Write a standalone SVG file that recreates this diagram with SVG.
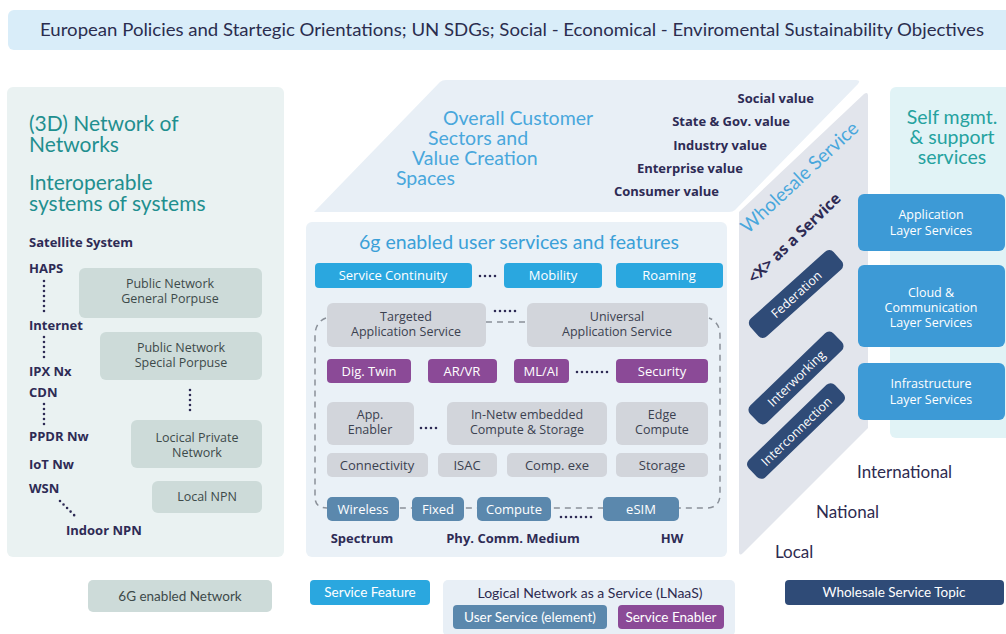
<svg xmlns="http://www.w3.org/2000/svg" width="1006" height="634" viewBox="0 0 1006 634">
<defs>
<style>
.hd{font-family:Lato,"Open Sans",sans-serif;}
.bd{font-family:"Open Sans","Noto Sans",sans-serif;}
.nv{fill:#2e2b55;font-weight:700;font-size:13px;}
.teal{fill:#1f8f8f;font-size:21px;}
.gbox{fill:#cddbd9;}
.gtx{fill:#3d4a4a;font-size:12.5px;text-anchor:middle;}
.feat{fill:#2aa7df;}
.app{fill:#d2d5db;}
.pur{fill:#8b4a97;}
.stl{fill:#5b88ad;}
.navy{fill:#2f4b77;}
.lay{fill:#3d9ad6;}
.wt{fill:#ffffff;font-size:13px;text-anchor:middle;}
.wt2{fill:#ffffff;font-size:12.5px;text-anchor:middle;}
.at{fill:#3b4150;font-size:13px;text-anchor:middle;}
.at2{fill:#3b4150;font-size:12.5px;text-anchor:middle;}
.dots{stroke:#2e2b55;stroke-width:2.6;stroke-linecap:round;stroke-dasharray:0 5;fill:none;}
.dash{stroke:#8a9099;stroke-width:1.5;stroke-dasharray:6 5;fill:none;}
.lvl{fill:#2e2b50;font-size:17px;}
</style>
</defs>

<!-- top banner -->
<g id="banner">
<rect x="8" y="10" width="1010" height="40" rx="6" fill="#d9edf9"/>
<text class="hd" x="512" y="36" text-anchor="middle" font-size="16.5" fill="#2b2d4f" textLength="944" lengthAdjust="spacingAndGlyphs">European Policies and Startegic Orientations; UN SDGs; Social - Economical - Enviromental Sustainability Objectives</text>
</g>

<!-- left panel -->
<g id="left-panel">
<rect x="7" y="87" width="277" height="470" rx="6" fill="#eaf2f2"/>
<text class="hd teal" x="29" y="131">(3D) Network of</text>
<text class="hd teal" x="29" y="152">Networks</text>
<text class="hd teal" x="29" y="190">Interoperable</text>
<text class="hd teal" x="29" y="211">systems of systems</text>
<text class="bd nv" x="29" y="247" font-size="14">Satellite System</text>
<text class="bd nv" x="29" y="273">HAPS</text>
<text class="bd nv" x="29" y="330">Internet</text>
<text class="bd nv" x="29" y="376">IPX Nx</text>
<text class="bd nv" x="29" y="397">CDN</text>
<text class="bd nv" x="29" y="441">PPDR Nw</text>
<text class="bd nv" x="29" y="469">IoT Nw</text>
<text class="bd nv" x="29" y="493">WSN</text>
<text class="bd nv" x="66" y="535">Indoor NPN</text>
<line class="dots" x1="44" y1="281" x2="44" y2="312"/>
<line class="dots" x1="44" y1="337" x2="44" y2="358"/>
<line class="dots" x1="44" y1="404" x2="44" y2="426"/>
<line class="dots" x1="60" y1="501" x2="75" y2="516"/>
<line class="dots" x1="190" y1="390" x2="190" y2="415"/>
</g>
<g id="pn-general"><rect class="gbox" x="79" y="268" width="183" height="50" rx="6"/><text class="bd gtx" x="170" y="288">Public Network</text><text class="bd gtx" x="170" y="303">General Porpuse</text></g>
<g id="pn-special"><rect class="gbox" x="100" y="332" width="162" height="48" rx="6"/><text class="bd gtx" x="181" y="352">Public Network</text><text class="bd gtx" x="181" y="367">Special Porpuse</text></g>
<g id="lpn"><rect class="gbox" x="131" y="420" width="131" height="48" rx="6"/><text class="bd gtx" x="197" y="442">Locical Private</text><text class="bd gtx" x="197" y="457">Network</text></g>
<g id="local-npn"><rect class="gbox" x="152" y="481" width="110" height="32" rx="6"/><text class="bd gtx" x="207" y="501">Local NPN</text></g>

<!-- customer panel -->
<g id="customer">
<path d="M314 212 L440 82 Q442 80 446 80 L856 80 Q861 80 858 84 L735 210 Q733 212 729 212 Z" fill="#e8eff6"/>
<g class="hd" fill="#49a7dc" font-size="19.5">
<text x="443" y="125">Overall Customer</text>
<text x="428" y="145">Sectors and</text>
<text x="412" y="165">Value Creation</text>
<text x="396" y="185">Spaces</text>
</g>
<g class="bd nv" text-anchor="end">
<text x="814" y="103">Social value</text>
<text x="790" y="126">State &amp; Gov. value</text>
<text x="767" y="150">Industry value</text>
<text x="743" y="173">Enterprise value</text>
<text x="719" y="196">Consumer value</text>
</g>
</g>

<!-- center panel -->
<g id="center-panel">
<rect x="306" y="222" width="421" height="335" rx="6" fill="#eaf1f7"/>
<text class="hd" x="519" y="249" text-anchor="middle" font-size="19.5" fill="#3ba0d8">6g enabled user services and features</text>
</g>

<g id="connectors">
<path class="dash" d="M326 318 Q315 322 315 336 V497 Q315 508 327 508 H706 Q719 508 720 496 V336 Q720 322 709 318"/>
<line class="dash" x1="486" y1="322" x2="527" y2="322"/>
<line class="dots" x1="480" y1="276" x2="498" y2="276"/>
<line class="dots" x1="495" y1="311" x2="520" y2="311"/>
<line class="dots" x1="577" y1="372" x2="608" y2="372"/>
<line class="dots" x1="421" y1="428" x2="440" y2="428"/>
<line class="dots" x1="561" y1="517" x2="596" y2="517"/>
<line class="dots" x1="792" y1="326" x2="792" y2="352"/>
</g>

<g id="svc-continuity"><rect class="feat" x="315" y="263" width="157" height="25" rx="4"/><text class="bd wt" x="393" y="280">Service Continuity</text></g>
<g id="mobility"><rect class="feat" x="504" y="263" width="98" height="25" rx="4"/><text class="bd wt" x="553" y="280">Mobility</text></g>
<g id="roaming"><rect class="feat" x="616" y="263" width="107" height="25" rx="4"/><text class="bd wt" x="669" y="280">Roaming</text></g>

<g id="targeted"><rect class="app" x="327" y="303" width="159" height="44" rx="6"/><text class="bd at2" x="406" y="321">Targeted</text><text class="bd at2" x="406" y="336">Application Service</text></g>
<g id="universal"><rect class="app" x="527" y="303" width="181" height="44" rx="6"/><text class="bd at2" x="617" y="321">Universal</text><text class="bd at2" x="617" y="336">Application Service</text></g>

<g id="digtwin"><rect class="pur" x="327" y="359" width="84" height="24" rx="4"/><text class="bd wt" x="369" y="376">Dig. Twin</text></g>
<g id="arvr"><rect class="pur" x="428" y="359" width="69" height="24" rx="4"/><text class="bd wt" x="462" y="376">AR/VR</text></g>
<g id="mlai"><rect class="pur" x="514" y="359" width="55" height="24" rx="4"/><text class="bd wt" x="541" y="376">ML/AI</text></g>
<g id="security"><rect class="pur" x="616" y="359" width="92" height="24" rx="4"/><text class="bd wt" x="662" y="376">Security</text></g>

<g id="app-enabler"><rect class="app" x="327" y="402" width="87" height="43" rx="6"/><text class="bd at2" x="370" y="419">App.</text><text class="bd at2" x="370" y="434">Enabler</text></g>
<g id="innetw"><rect class="app" x="447" y="402" width="160" height="43" rx="6"/><text class="bd at2" x="527" y="419">In-Netw embedded</text><text class="bd at2" x="527" y="434">Compute &amp; Storage</text></g>
<g id="edge"><rect class="app" x="616" y="402" width="92" height="43" rx="6"/><text class="bd at2" x="662" y="419">Edge</text><text class="bd at2" x="662" y="434">Compute</text></g>

<g id="connectivity"><rect class="app" x="327" y="453" width="101" height="24" rx="5"/><text class="bd at" x="377" y="470">Connectivity</text></g>
<g id="isac"><rect class="app" x="438" y="453" width="59" height="24" rx="5"/><text class="bd at" x="467" y="470">ISAC</text></g>
<g id="compexe"><rect class="app" x="507" y="453" width="100" height="24" rx="5"/><text class="bd at" x="557" y="470">Comp. exe</text></g>
<g id="storage"><rect class="app" x="616" y="453" width="92" height="24" rx="5"/><text class="bd at" x="662" y="470">Storage</text></g>

<g id="wireless"><rect class="stl" x="327" y="497" width="72" height="24" rx="5"/><text class="bd wt" x="363" y="514">Wireless</text></g>
<g id="fixed"><rect class="stl" x="412" y="497" width="52" height="24" rx="5"/><text class="bd wt" x="438" y="514">Fixed</text></g>
<g id="compute"><rect class="stl" x="477" y="497" width="74" height="24" rx="5"/><text class="bd wt" x="514" y="514">Compute</text></g>
<g id="esim"><rect class="stl" x="603" y="497" width="76" height="24" rx="5"/><text class="bd wt" x="641" y="514">eSIM</text></g>

<g id="bottom-labels" class="bd nv">
<text x="362" y="543" text-anchor="middle">Spectrum</text>
<text x="513" y="543" text-anchor="middle">Phy. Comm. Medium</text>
<text x="672" y="543" text-anchor="middle">HW</text>
</g>

<!-- wholesale panel -->
<g id="wholesale">
<path d="M739 212 L864 94 Q868 91 868 96 L868 428 L743 553 Q739 557 739 551 Z" fill="#e2e5ec"/>
<text class="hd" transform="translate(804,182) rotate(-43)" text-anchor="middle" font-size="19" fill="#49a7dc">Wholesale Service</text>
<text class="bd" transform="translate(798,242) rotate(-44)" text-anchor="middle" font-size="15.5" font-weight="700" fill="#2e2b55">&lt;X&gt; as a Service</text>
</g>
<g id="federation" transform="translate(796,294) rotate(-42)"><rect class="navy" x="-56" y="-12" width="112" height="24" rx="6"/><text class="bd wt2" x="0" y="5">Federation</text></g>
<g id="interworking" transform="translate(796,378) rotate(-44)"><rect class="navy" x="-58" y="-12" width="116" height="24" rx="6"/><text class="bd wt2" x="0" y="5">Interworking</text></g>
<g id="interconnection" transform="translate(796,431) rotate(-44)"><rect class="navy" x="-60" y="-12" width="120" height="24" rx="6"/><text class="bd wt2" x="0" y="5">Interconnection</text></g>

<!-- self mgmt panel -->
<g id="self-mgmt">
<rect x="890" y="87" width="125" height="351" rx="6" fill="#e1f3f6"/>
<g class="hd" fill="#25a29f" font-size="19.5" text-anchor="middle">
<text x="952" y="124">Self mgmt.</text>
<text x="952" y="144">&amp; support</text>
<text x="952" y="164">services</text>
</g>
</g>
<g id="app-layer"><rect class="lay" x="858" y="194" width="147" height="57" rx="6"/><text class="bd wt2" x="931" y="219">Application</text><text class="bd wt2" x="931" y="235">Layer Services</text></g>
<g id="cloud-layer"><rect class="lay" x="858" y="265" width="147" height="82" rx="6"/><text class="bd wt2" x="931" y="297">Cloud &amp;</text><text class="bd wt2" x="931" y="312">Communication</text><text class="bd wt2" x="931" y="327">Layer Services</text></g>
<g id="infra-layer"><rect class="lay" x="858" y="363" width="147" height="57" rx="6"/><text class="bd wt2" x="931" y="388">Infrastructure</text><text class="bd wt2" x="931" y="404">Layer Services</text></g>

<g id="levels" class="hd">
<text class="lvl" x="857" y="478">International</text>
<text class="lvl" x="816" y="518">National</text>
<text class="lvl" x="775" y="558">Local</text>
</g>

<!-- legend -->
<g id="legend-6g"><rect class="gbox" x="88" y="580" width="184" height="32" rx="5"/><text class="hd" x="180" y="601" text-anchor="middle" font-size="13.5" fill="#3d4a4a">6G enabled Network</text></g>
<g id="legend-feature"><rect class="feat" x="310" y="580" width="120" height="25" rx="4"/><text class="hd" x="370" y="597" text-anchor="middle" font-size="13.5" fill="#fff">Service Feature</text></g>
<g id="legend-lnaas">
<rect x="443" y="580" width="292" height="56" rx="5" fill="#e8eff6"/>
<text class="hd" x="590" y="598" text-anchor="middle" font-size="14" fill="#2e2b50">Logical Network as a Service (LNaaS)</text>
<rect class="stl" x="453" y="605" width="154" height="24" rx="4"/><text class="hd" x="530" y="622" text-anchor="middle" font-size="13.5" fill="#fff">User Service (element)</text>
<rect class="pur" x="618" y="605" width="106" height="24" rx="4"/><text class="hd" x="671" y="622" text-anchor="middle" font-size="13.5" fill="#fff">Service Enabler</text>
</g>
<g id="legend-wholesale"><rect class="navy" x="785" y="580" width="219" height="25" rx="4"/><text class="hd" x="894" y="597" text-anchor="middle" font-size="13.5" fill="#fff">Wholesale Service Topic</text></g>
</svg>
